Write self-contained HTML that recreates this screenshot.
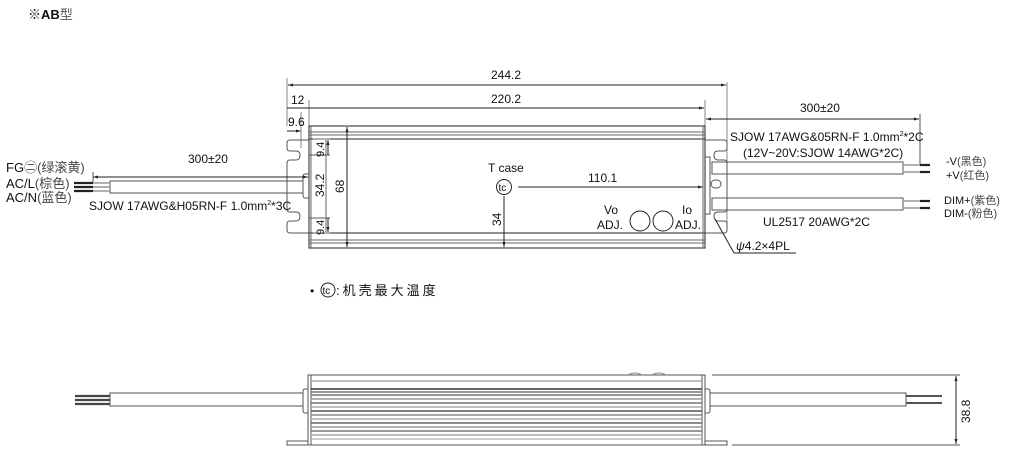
<!DOCTYPE html>
<html><head><meta charset="utf-8"><style>
html,body{margin:0;padding:0;background:#fff;width:1010px;height:467px;overflow:hidden}
svg text{font-family:"Liberation Sans","Noto Sans CJK SC",sans-serif;fill:#111}
</style></head><body>
<svg width="1010" height="467" viewBox="0 0 1010 467" xmlns="http://www.w3.org/2000/svg">
<defs>
<marker id="a" viewBox="0 0 10 10" refX="10" refY="5" markerWidth="7" markerHeight="5" orient="auto-start-reverse"><path d="M0,2 L10,5 L0,8 z" fill="#222"/></marker>
</defs>
<g stroke="#222" stroke-width="1" fill="none">
<text x="28" y="19" font-size="13" stroke="none"><tspan font-weight="bold">※AB</tspan><tspan fill="#555">型</tspan></text>

<!-- top dims -->
<line x1="287" y1="78" x2="287" y2="126" stroke="#888"/>
<line x1="727" y1="82" x2="727" y2="230" stroke="#888"/>
<line x1="288" y1="85" x2="726" y2="85" marker-start="url(#a)" marker-end="url(#a)"/>
<text x="491" y="79" font-size="12" stroke="none">244.2</text>
<line x1="309" y1="100" x2="309" y2="126" stroke="#888"/>
<line x1="705" y1="100" x2="705" y2="126" stroke="#888"/>
<line x1="287" y1="108" x2="704" y2="108" marker-end="url(#a)"/>
<text x="491" y="103" font-size="12" stroke="none">220.2</text>
<text x="291" y="104" font-size="12" stroke="none">12</text>
<line x1="287" y1="131" x2="301" y2="131" marker-end="url(#a)"/>
<line x1="301" y1="112" x2="301" y2="148" stroke="#888"/>
<text x="288" y="126" font-size="12" stroke="none">9.6</text>

<!-- body -->
<rect x="309" y="126" width="396" height="122"/>
<line x1="309" y1="132" x2="705" y2="132" stroke="#666"/>
<line x1="309" y1="135" x2="705" y2="135" stroke="#666"/>
<line x1="309" y1="139" x2="705" y2="139"/>
<line x1="309" y1="233" x2="705" y2="233"/>
<line x1="309" y1="240" x2="705" y2="240" stroke="#666"/>
<line x1="309" y1="243" x2="705" y2="243" stroke="#666"/>
<line x1="311" y1="126" x2="311" y2="248" stroke="#666"/>
<line x1="703" y1="126" x2="703" y2="248" stroke="#666"/>
<!-- left flange -->
<path d="M309,140 H290 Q287,140 287,143 V148 Q287,151 290,151 H296 Q300,151 300,155 Q300,160 296,160 H290 Q287,160 287,163 V209 Q287,212 290,212 H296 Q300,212 300,216 Q300,221 296,221 H290 Q287,221 287,224 V230 Q287,233 290,233 H309" stroke="#555"/>
<line x1="309" y1="155" x2="330" y2="155" stroke="#555"/>
<line x1="309" y1="218" x2="330" y2="218" stroke="#555"/>
<path d="M309,174 H305 Q303,174 303,177 V195 Q303,198 305,198 H309" stroke="#555"/>
<!-- right flange -->
<path d="M705,140 H724 Q727,140 727,143 V148 Q727,151 724,151 H718 Q714,151 714,155 Q714,160 718,160 H724 Q727,160 727,163 V209 Q727,212 724,212 H718 Q714,212 714,216 Q714,221 718,221 H724 Q727,221 727,224 V230 Q727,233 724,233 H705" stroke="#555"/>
<rect x="711" y="180" width="10" height="8" rx="4" stroke="#555"/>
<path d="M705,157 H710 V214 H705" stroke="#555"/>
<!-- inner dims -->
<line x1="326" y1="140" x2="326" y2="232" stroke="#666"/>
<line x1="313" y1="139" x2="330" y2="139" stroke="#666"/>
<line x1="313" y1="233" x2="330" y2="233" stroke="#666"/>
<line x1="328" y1="155" x2="328" y2="140" marker-end="url(#a)"/>
<line x1="328" y1="218" x2="328" y2="232" marker-end="url(#a)"/>
<text transform="translate(324,157) rotate(-90)" font-size="11" stroke="none">9.4</text>
<text transform="translate(324,235) rotate(-90)" font-size="11" stroke="none">9.4</text>
<text transform="translate(324,197) rotate(-90)" font-size="12" stroke="none">34.2</text>
<line x1="347" y1="127" x2="347" y2="247" marker-start="url(#a)" marker-end="url(#a)"/>
<text transform="translate(344,193) rotate(-90)" font-size="12" stroke="none">68</text>
<!-- tc -->
<text x="488" y="172" font-size="12" stroke="none">T case</text>
<circle cx="504" cy="187" r="7.5"/>
<text x="498.5" y="191" font-size="10" stroke="none">tc</text>
<line x1="518" y1="187" x2="703" y2="187" marker-end="url(#a)"/>
<text x="588" y="182" font-size="12" stroke="none">110.1</text>
<line x1="504" y1="196" x2="504" y2="247" marker-end="url(#a)"/>
<text transform="translate(501,226) rotate(-90)" font-size="12" stroke="none">34</text>
<text x="604" y="214" font-size="12" stroke="none">Vo</text>
<text x="597" y="229" font-size="12" stroke="none">ADJ.</text>
<circle cx="640" cy="221" r="10"/>
<circle cx="663" cy="221" r="10"/>
<text x="682" y="214" font-size="12" stroke="none">Io</text>
<text x="675" y="229" font-size="12" stroke="none">ADJ.</text>

<!-- left cable -->
<line x1="93" y1="177" x2="308" y2="177" marker-start="url(#a)" marker-end="url(#a)"/>
<line x1="93" y1="172" x2="93" y2="182" stroke="#555"/>
<text x="188" y="163" font-size="12" stroke="none">300±20</text>
<rect x="110" y="181" width="193" height="12" stroke="#555"/>
<line x1="93" y1="183" x2="110" y2="183" stroke="#999" stroke-width="1.5"/>
<line x1="93" y1="187" x2="110" y2="187" stroke="#999" stroke-width="1.5"/>
<line x1="93" y1="191" x2="110" y2="191" stroke="#999" stroke-width="1.5"/>
<line x1="74" y1="183" x2="93" y2="183" stroke="#222" stroke-width="2.2"/>
<line x1="74" y1="187" x2="93" y2="187" stroke="#222" stroke-width="2.2"/>
<line x1="74" y1="191" x2="93" y2="191" stroke="#222" stroke-width="2.2"/>
<text x="6" y="172" font-size="13" stroke="none">FG<tspan fill="#444">㊁(绿滚黄)</tspan></text>
<text x="6" y="188" font-size="13" stroke="none">AC/L<tspan fill="#444">(棕色)</tspan></text>
<text x="6" y="202" font-size="13" stroke="none">AC/N<tspan fill="#444">(蓝色)</tspan></text>
<text x="89" y="210" font-size="12" stroke="none">SJOW 17AWG&amp;H05RN-F 1.0mm<tspan font-size="7" dy="-5">2</tspan><tspan dy="5">*3C</tspan></text>

<!-- right cables -->
<line x1="706" y1="119" x2="919" y2="119" marker-start="url(#a)" marker-end="url(#a)"/>
<line x1="920" y1="114" x2="920" y2="165" stroke="#555"/>
<text x="800" y="112" font-size="12" stroke="none">300±20</text>
<text x="730" y="141" font-size="12" stroke="none">SJOW 17AWG&amp;05RN-F 1.0mm<tspan font-size="7" dy="-5">2</tspan><tspan dy="5">*2C</tspan></text>
<text x="743" y="157" font-size="12" stroke="none">(12V~20V:SJOW 14AWG*2C)</text>
<rect x="712" y="162" width="191" height="12" stroke="#555"/>
<rect x="712" y="198" width="191" height="12" stroke="#555"/>
<line x1="903" y1="165" x2="920" y2="165" stroke="#999" stroke-width="1.5"/>
<line x1="903" y1="172" x2="920" y2="172" stroke="#999" stroke-width="1.5"/>
<line x1="903" y1="201" x2="920" y2="201" stroke="#999" stroke-width="1.5"/>
<line x1="903" y1="208" x2="920" y2="208" stroke="#999" stroke-width="1.5"/>
<line x1="920" y1="165" x2="930" y2="165" stroke="#222" stroke-width="2.2"/>
<line x1="920" y1="172" x2="930" y2="172" stroke="#222" stroke-width="2.2"/>
<line x1="920" y1="201" x2="930" y2="201" stroke="#222" stroke-width="2.2"/>
<line x1="920" y1="208" x2="930" y2="208" stroke="#222" stroke-width="2.2"/>
<text x="946" y="165" font-size="11" stroke="none">-V<tspan fill="#444">(黑色)</tspan></text>
<text x="946" y="179" font-size="11" stroke="none">+V<tspan fill="#444">(红色)</tspan></text>
<text x="944" y="204" font-size="11" stroke="none">DIM+<tspan fill="#444">(紫色)</tspan></text>
<text x="944" y="217" font-size="11" stroke="none">DIM-<tspan fill="#444">(粉色)</tspan></text>
<text x="763" y="226" font-size="12" stroke="none">UL2517 20AWG*2C</text>
<line x1="715" y1="219" x2="734" y2="253"/>
<line x1="734" y1="253" x2="796" y2="253"/>
<text x="736" y="250" font-size="12" stroke="none"><tspan font-style="italic">ψ</tspan>4.2×4PL</text>

<text x="310" y="295" font-size="12" stroke="none">•</text>
<circle cx="328" cy="290" r="7"/>
<text x="322.5" y="294" font-size="10" stroke="none">tc</text>
<text x="336" y="295" font-size="13" stroke="none" fill="#333" letter-spacing="3">:机壳最大温度</text>

<!-- bottom view -->
<rect x="308" y="375" width="397" height="70" stroke="#555"/>
<line x1="311" y1="375" x2="311" y2="445" stroke="#555"/>
<line x1="702" y1="375" x2="702" y2="445" stroke="#555"/>
<g stroke-width="1.5">
<line x1="311" y1="381" x2="702" y2="381" stroke="#aaa"/>
<line x1="311" y1="389" x2="702" y2="389" stroke="#333"/>
<line x1="311" y1="392" x2="702" y2="392" stroke="#777"/>
<line x1="311" y1="395" x2="702" y2="395" stroke="#777"/>
<line x1="311" y1="399" x2="702" y2="399" stroke="#999"/>
<line x1="311" y1="403" x2="702" y2="403" stroke="#777"/>
<line x1="311" y1="407" x2="702" y2="407" stroke="#aaa"/>
<line x1="311" y1="411" x2="702" y2="411" stroke="#555"/>
<line x1="311" y1="415" x2="702" y2="415" stroke="#888"/>
<line x1="311" y1="419" x2="702" y2="419" stroke="#aaa"/>
<line x1="311" y1="423" x2="702" y2="423" stroke="#666"/>
<line x1="311" y1="427" x2="702" y2="427" stroke="#999"/>
<line x1="311" y1="431" x2="702" y2="431" stroke="#777"/>
<line x1="311" y1="435" x2="702" y2="435" stroke="#aaa"/>
<line x1="311" y1="439" x2="702" y2="439" stroke="#bbb"/>
</g>
<path d="M308,441 H287 V445 H308" stroke="#555"/>
<path d="M705,441 H727 V445 H705" stroke="#555"/>
<path d="M628,375 Q635,371 642,375 M652,375 Q659,371 666,375" stroke="#888"/>
<path d="M308,389 H305 Q303,389 303,392 V410 Q303,413 305,413 H308" stroke="#555"/>
<path d="M705,389 H708 Q710,389 710,392 V410 Q710,413 708,413 H705" stroke="#555"/>
<rect x="110" y="393" width="193" height="13" stroke="#555"/>
<line x1="75" y1="396" x2="110" y2="396" stroke="#444" stroke-width="2.2"/>
<line x1="75" y1="400" x2="110" y2="400" stroke="#444" stroke-width="2.2"/>
<line x1="75" y1="404" x2="110" y2="404" stroke="#444" stroke-width="2.2"/>
<rect x="710" y="393" width="196" height="13" stroke="#555"/>
<line x1="906" y1="396" x2="942" y2="396" stroke="#555" stroke-width="2"/>
<line x1="906" y1="403" x2="942" y2="403" stroke="#555" stroke-width="2"/>
<line x1="712" y1="375" x2="960" y2="375" stroke="#555"/>
<line x1="732" y1="445" x2="960" y2="445" stroke="#555"/>
<line x1="956" y1="376" x2="956" y2="444" marker-start="url(#a)" marker-end="url(#a)"/>
<text transform="translate(970,423) rotate(-90)" font-size="12" stroke="none">38.8</text>
</g>
</svg>
</body></html>
